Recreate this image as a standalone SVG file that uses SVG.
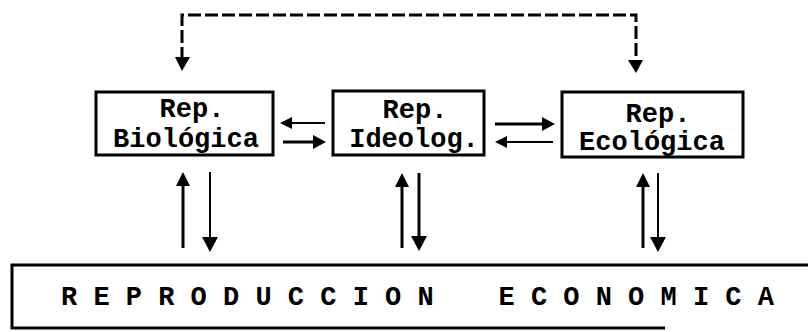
<svg xmlns="http://www.w3.org/2000/svg" width="808" height="332" viewBox="0 0 808 332">
<defs>
<style>
.box{fill:none;stroke:#000;stroke-width:3}
.t{font-family:"Liberation Mono","Courier New",monospace;font-size:27px;font-weight:bold;fill:#000}
.ln{stroke:#000;stroke-width:3;fill:none}
.thin{stroke:#000;stroke-width:2;fill:none}
.dash{stroke:#000;stroke-width:3;fill:none;stroke-dasharray:13 4}
.ah{fill:#000}
</style>
</defs>
<rect width="808" height="332" fill="#fff"/>
<g id="connectors">
<path class="dash" d="M182,60 V15 H636 V62"/>
<polygon class="ah" points="175,57 190,57 182,71"/>
<polygon class="ah" points="628,60 643,60 636,73"/>
<line class="thin" x1="325" y1="123" x2="290" y2="123"/>
<polygon class="ah" points="280,123 292,117 292,129"/>
<line class="ln" x1="283" y1="142" x2="315" y2="142"/>
<polygon class="ah" points="326,142 313,135 313,149"/>
<line class="ln" x1="495" y1="124" x2="544" y2="124"/>
<polygon class="ah" points="555,124 542,117 542,131"/>
<line class="thin" x1="553" y1="142" x2="505" y2="142"/>
<polygon class="ah" points="495,142 507,136 507,148"/>
<line class="ln" x1="183" y1="248" x2="183" y2="182"/>
<polygon class="ah" points="183,172 176,186 190,186"/>
<line class="thin" x1="210" y1="172" x2="210" y2="240"/>
<polygon class="ah" points="210,252 202,237 218,237"/>
<line class="ln" x1="402" y1="248" x2="402" y2="183"/>
<polygon class="ah" points="402,173 395,187 409,187"/>
<line class="ln" x1="419" y1="173" x2="419" y2="240"/>
<polygon class="ah" points="419,251 411,236 427,236"/>
<line class="ln" x1="643" y1="248" x2="643" y2="183"/>
<polygon class="ah" points="643,173 636,187 650,187"/>
<line class="thin" x1="658" y1="173" x2="658" y2="240"/>
<polygon class="ah" points="658,252 650,237 666,237"/>
</g>
<g id="bio">
<rect class="box" x="96" y="92" width="177" height="63"/>
<text class="t" x="192" y="117" text-anchor="middle">Rep.</text>
<text class="t" x="186" y="147" text-anchor="middle">Biológica</text>
</g>
<g id="ideo">
<rect class="box" x="333" y="91" width="151" height="64"/>
<text class="t" x="415" y="118" text-anchor="middle">Rep.</text>
<text class="t" x="414" y="147" text-anchor="middle">Ideolog.</text>
</g>
<g id="eco">
<rect class="box" x="562" y="92" width="181" height="65"/>
<text class="t" x="658" y="122" text-anchor="middle">Rep.</text>
<text class="t" x="652" y="150" text-anchor="middle">Ecológica</text>
</g>
<g id="econ">
<path class="box" d="M808,265 H12 V328 H665"/>
<text class="t" x="61" y="305" xml:space="preserve">R E P R O D U C C I O N    E C O N O M I C A</text>
</g>
</svg>
